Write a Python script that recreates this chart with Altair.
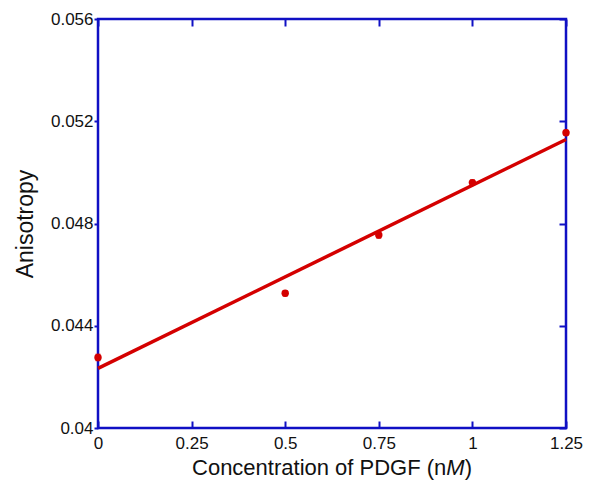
import altair as alt
import pandas as pd

# Data
conc = [0.0, 0.5, 0.75, 1.0, 1.25]
anis = [0.04276, 0.04527, 0.04755, 0.04960, 0.05155]
err = [0.00012, 0.00010, 0.00012, 0.00010, 0.00010]

x_ticks = [0, 0.25, 0.5, 0.75, 1, 1.25]
y_ticks = [0.04, 0.044, 0.048, 0.052, 0.056]

BLUE = "#1010c4"
RED = "#d40000"
FONT = "Liberation Sans"
W, H = 468, 409
TFS = 22  # title font size

df = pd.DataFrame({"conc": conc, "anis": anis, "err": err})
df["lo"] = df["anis"] - df["err"]
df["hi"] = df["anis"] + df["err"]

xscale = alt.Scale(domain=[0, 1.25], nice=False, zero=False)
yscale = alt.Scale(domain=[0.04, 0.056], nice=False, zero=False)

base = alt.Chart(df)

x_bottom = alt.Axis(
    orient="bottom", values=x_ticks, labelExpr="format(datum.value, '.2~f')", title=None,
    labelFont=FONT, labelFontSize=17, labelColor="#111111", labelPadding=7,
    ticks=False, domain=False, labelFlush=False,
    grid=True, gridColor=BLUE, gridWidth=2, gridDash=[7, 2000], gridOpacity=1,
)
y_left = alt.Axis(
    orient="left", values=y_ticks, labelExpr="format(datum.value, '.3~f')", title="Anisotropy",
    labelFont=FONT, labelFontSize=17, labelColor="#111111", labelPadding=1,
    ticks=True, tickSize=4, tickColor=BLUE, tickWidth=2, domain=False,
    labelFlush=False, grid=False,
    titleFont=FONT, titleFontSize=23, titleFontWeight="normal", titleColor="#111111",
    titlePadding=13,
)
x_top = alt.Axis(
    orient="top", values=x_ticks, title=None, labels=False, ticks=False, domain=False,
    grid=True, gridColor=BLUE, gridWidth=2, gridDash=[7, 2000], gridOpacity=1,
)
y_right = alt.Axis(
    orient="right", values=y_ticks, title=None, labels=False, ticks=False, domain=False,
    grid=True, gridColor=BLUE, gridWidth=2, gridDash=[7, 2000], gridOpacity=1,
)

fit = base.transform_regression("conc", "anis", extent=[0, 1.25]).mark_line(
    color=RED, strokeWidth=3.5
).encode(
    x=alt.X("conc:Q", scale=xscale, axis=x_top),
    y=alt.Y("anis:Q", scale=yscale, axis=y_right),
)

bars = base.mark_errorbar(ticks=alt.TickConfig(size=5, thickness=1.5), color=RED, thickness=1.5).encode(
    x=alt.X("conc:Q", scale=xscale, axis=None),
    y=alt.Y("lo:Q", scale=yscale, axis=None),
    y2="hi:Q",
)

pts = base.mark_point(filled=True, shape="circle", size=55, color=RED, opacity=1).encode(
    x=alt.X("conc:Q", scale=xscale, axis=x_bottom),
    y=alt.Y("anis:Q", scale=yscale, axis=y_left),
)

# x-axis title with italic "M" (centred under the plot)
title_y = H + 47
mid = W / 2
w1 = 11.56 * TFS   # "Concentration of PDGF (n"
wM = 0.833 * TFS   # italic "M"
wP = 0.333 * TFS   # ")"
start = mid - (w1 + wM + wP) / 2
t1 = alt.Chart(pd.DataFrame({"t": ["Concentration of PDGF (n"]})).mark_text(
    font=FONT, fontSize=TFS, align="left", baseline="alphabetic", color="#111111"
).encode(text="t:N", x=alt.value(start), y=alt.value(title_y))
t2 = alt.Chart(pd.DataFrame({"t": ["M"]})).mark_text(
    font=FONT, fontSize=TFS, fontStyle="italic", align="left", baseline="alphabetic", color="#111111"
).encode(text="t:N", x=alt.value(start + w1), y=alt.value(title_y))
t3 = alt.Chart(pd.DataFrame({"t": [")"]})).mark_text(
    font=FONT, fontSize=TFS, align="left", baseline="alphabetic", color="#111111"
).encode(text="t:N", x=alt.value(start + w1 + wM), y=alt.value(title_y))

chart = alt.layer(fit, bars, pts, t1, t2, t3).resolve_axis(
    x="independent", y="independent"
).properties(
    width=W, height=H,
    autosize=alt.AutoSizeParams(type="none"),
    padding={"left": 90, "top": 11, "right": 17, "bottom": 52},
).configure(
    background="white",
    view=alt.ViewConfig(stroke=BLUE, strokeWidth=2.5),
)

chart.save("out.html", embed_options={"renderer": "svg", "actions": False})
